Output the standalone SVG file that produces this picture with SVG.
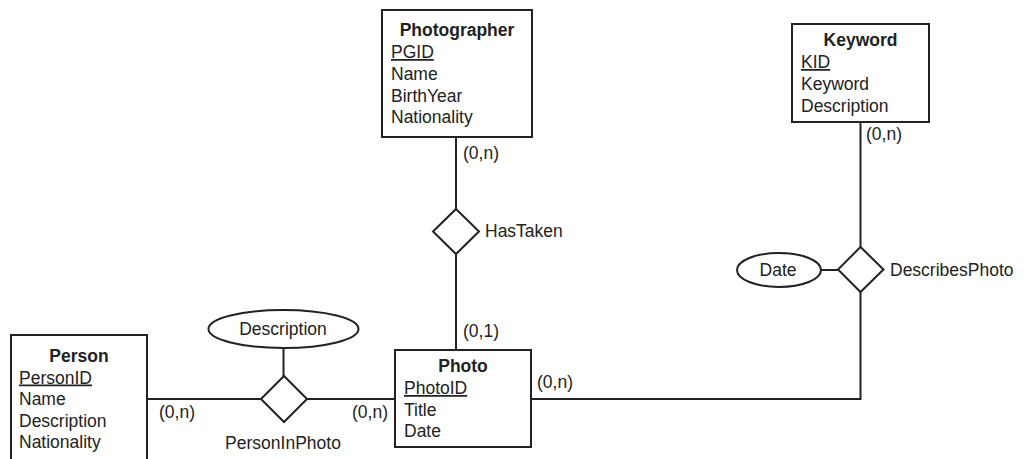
<svg xmlns="http://www.w3.org/2000/svg" width="1024" height="459" viewBox="0 0 1024 459">
<style>
text{font-family:"Liberation Sans",Arial,sans-serif;font-size:17.5px;fill:#222}
.t{font-weight:bold;text-anchor:middle}
.u{text-decoration:underline}
.c{text-anchor:middle}
.box,.rel,.att{fill:#fff;stroke:#222;stroke-width:2}
.ln{fill:none;stroke:#222;stroke-width:2}
</style>
<rect width="1024" height="459" fill="#fff"/>
<g id="connectors">
<line class="ln" x1="456" y1="137" x2="456" y2="209"/>
<line class="ln" x1="456" y1="254" x2="456" y2="350"/>
<line class="ln" x1="860.5" y1="122" x2="860.5" y2="247"/>
<polyline class="ln" points="531,399 860.5,399 860.5,292"/>
<line class="ln" x1="821" y1="270" x2="838" y2="270"/>
<line class="ln" x1="147" y1="399" x2="261" y2="399"/>
<line class="ln" x1="307" y1="399" x2="395" y2="399"/>
<line class="ln" x1="283.5" y1="348" x2="283.5" y2="376"/>
<text x="463" y="159">(0,n)</text>
<text x="463" y="337">(0,1)</text>
<text x="866" y="140">(0,n)</text>
<text x="537" y="388">(0,n)</text>
<text x="159" y="418">(0,n)</text>
<text x="352" y="418">(0,n)</text>
</g>
<g id="photographer">
<rect class="box" x="382" y="10" width="150" height="127"/>
<text class="t" x="457" y="36">Photographer</text>
<text class="u" x="391" y="58">PGID</text>
<text x="391" y="80">Name</text>
<text x="391" y="101.5">BirthYear</text>
<text x="391" y="123">Nationality</text>
</g>
<g id="keyword">
<rect class="box" x="792" y="24" width="137" height="98"/>
<text class="t" x="860.5" y="46">Keyword</text>
<text class="u" x="801" y="68">KID</text>
<text x="801" y="90">Keyword</text>
<text x="801" y="112">Description</text>
</g>
<g id="person">
<rect class="box" x="11" y="335" width="136" height="130"/>
<text class="t" x="79" y="362">Person</text>
<text class="u" x="19" y="383.5">PersonID</text>
<text x="19" y="405">Name</text>
<text x="19" y="426.5">Description</text>
<text x="19" y="448">Nationality</text>
</g>
<g id="photo">
<rect class="box" x="395" y="350" width="136" height="97"/>
<text class="t" x="463" y="372">Photo</text>
<text class="u" x="404" y="394">PhotoID</text>
<text x="404" y="415.5">Title</text>
<text x="404" y="437">Date</text>
</g>
<g id="hastaken">
<polygon class="rel" points="456,209 479,231.5 456,254 433,231.5"/>
<text x="485" y="237">HasTaken</text>
</g>
<g id="describesphoto">
<polygon class="rel" points="860.5,247 883.5,269.5 860.5,292 838,269.5"/>
<text x="890" y="276">DescribesPhoto</text>
</g>
<g id="date-attr">
<ellipse class="att" cx="779" cy="270" rx="42" ry="17"/>
<text class="c" x="778" y="276">Date</text>
</g>
<g id="personinphoto">
<polygon class="rel" points="284,376 307,399 284,422 261,399"/>
<text class="c" x="283" y="449">PersonInPhoto</text>
</g>
<g id="description-attr">
<ellipse class="att" cx="283.5" cy="329" rx="75" ry="19"/>
<text class="c" x="283" y="335">Description</text>
</g>
</svg>
